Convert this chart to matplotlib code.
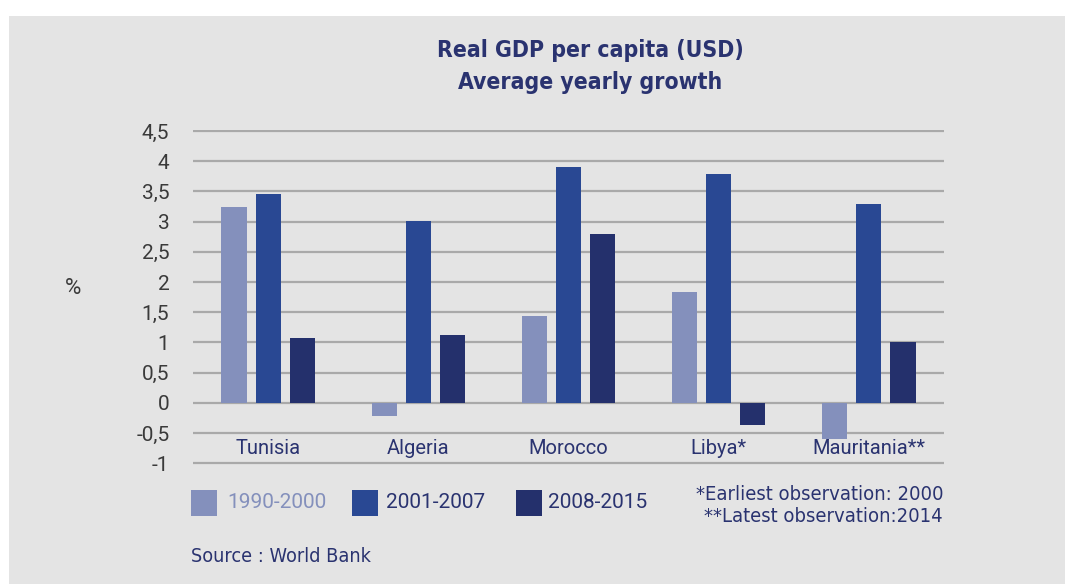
import matplotlib
matplotlib.use("Agg")
import matplotlib.pyplot as plt
from matplotlib.patches import Rectangle
import numpy as np

# Average yearly growth of real GDP per capita (%)
countries = ["Tunisia", "Algeria", "Morocco", "Libya*", "Mauritania**"]
periods = ["1990-2000", "2001-2007", "2008-2015"]
growth_1990_2000 = [3.24, -0.21, 1.44, 1.83, -0.59]
growth_2001_2007 = [3.46, 3.01, 3.90, 3.79, 3.29]
growth_2008_2015 = [1.07, 1.12, 2.79, -0.36, 1.01]
yticks = [-1, -0.5, 0, 0.5, 1, 1.5, 2, 2.5, 3, 3.5, 4, 4.5]
ytick_labels = ["-1", "-0,5", "0", "0,5", "1", "1,5", "2", "2,5", "3", "3,5", "4", "4,5"]

colors = ["#8490bc", "#294893", "#24306c"]
navy = "#2a3370"
bg = "#e4e4e4"

cond = dict(family="DejaVu Sans", stretch="condensed")
plain = ["Roboto", "DejaVu Sans"]

fig = plt.figure(figsize=(10.65, 5.84), dpi=100)
fig.patch.set_facecolor("white")
fig.patches.append(Rectangle((9 / 1065, 0), 1 - 9 / 1065, 1 - 16 / 584,
                             transform=fig.transFigure, facecolor=bg,
                             edgecolor="none", zorder=0))

# y range padded slightly so the end gridlines are drawn in full
ppu = 60.42
ax = fig.add_axes([193 / 1065, (584 - 463.3 - 0.02 * ppu) / 584,
                   751 / 1065, 5.54 * ppu / 584])
ax.set_zorder(2)
ax.patch.set_alpha(0)

x = np.arange(len(countries))
width = 0.167
step = 0.227
series = [growth_1990_2000, growth_2001_2007, growth_2008_2015]
for i, (vals, c) in enumerate(zip(series, colors)):
    ax.bar(x + (i - 1) * step, vals, width=width, color=c, zorder=3,
           label=periods[i])

ax.set_xlim(-0.5, len(countries) - 0.5)
ax.set_ylim(-1.02, 4.52)
ax.set_yticks(yticks)
ax.set_yticklabels(ytick_labels, family=plain, fontsize=15, color="#3a3a3a")
ax.tick_params(axis="y", length=0, pad=17)
ax.set_xticks([])
ax.grid(axis="y", color="#a9a9a9", linewidth=1.6, zorder=1)
ax.set_axisbelow(True)
for s in ax.spines.values():
    s.set_visible(False)

for xi, name in zip(x, countries):
    ax.text(xi, -0.76, name, ha="center", va="center", fontsize=14.5,
            family=plain, color=navy)

fig.text(73 / 1065, 1 - 289 / 584, "%", ha="center", va="center",
         fontsize=16, family=plain, color="#3a3a3a")

fig.text(590 / 1065, 1 - 50 / 584, "Real GDP per capita (USD)", ha="center",
         va="center", fontsize=16.5, fontweight="bold", color=navy, **cond)
fig.text(590 / 1065, 1 - 82 / 584, "Average yearly growth", ha="center",
         va="center", fontsize=16.5, fontweight="bold", color=navy, **cond)

# Legend drawn as patches and labels below the axes
legend_items = [(191, 227, colors[0], colors[0]),
                (352, 386, colors[1], navy),
                (516, 548, colors[2], navy)]
for (px, tx, c, tc), lab in zip(legend_items, periods):
    fig.patches.append(Rectangle((px / 1065, 1 - 516 / 584), 26 / 1065,
                                 26 / 584, transform=fig.transFigure,
                                 facecolor=c, edgecolor="none", zorder=2))
    fig.text(tx / 1065, 1 - 503 / 584, lab, ha="left", va="center",
             fontsize=15, family=plain, color=tc)

fig.text(943 / 1065, 1 - 495 / 584, "*Earliest observation: 2000", ha="right",
         va="center", fontsize=14.5, color=navy, **cond)
fig.text(943 / 1065, 1 - 516 / 584, "**Latest observation:2014", ha="right",
         va="center", fontsize=14.5, color=navy, **cond)
fig.text(191 / 1065, 1 - 557 / 584, "Source : World Bank", ha="left",
         va="center", fontsize=14.2, color=navy, **cond)

fig.savefig("out.png", dpi=100, facecolor=fig.get_facecolor())
